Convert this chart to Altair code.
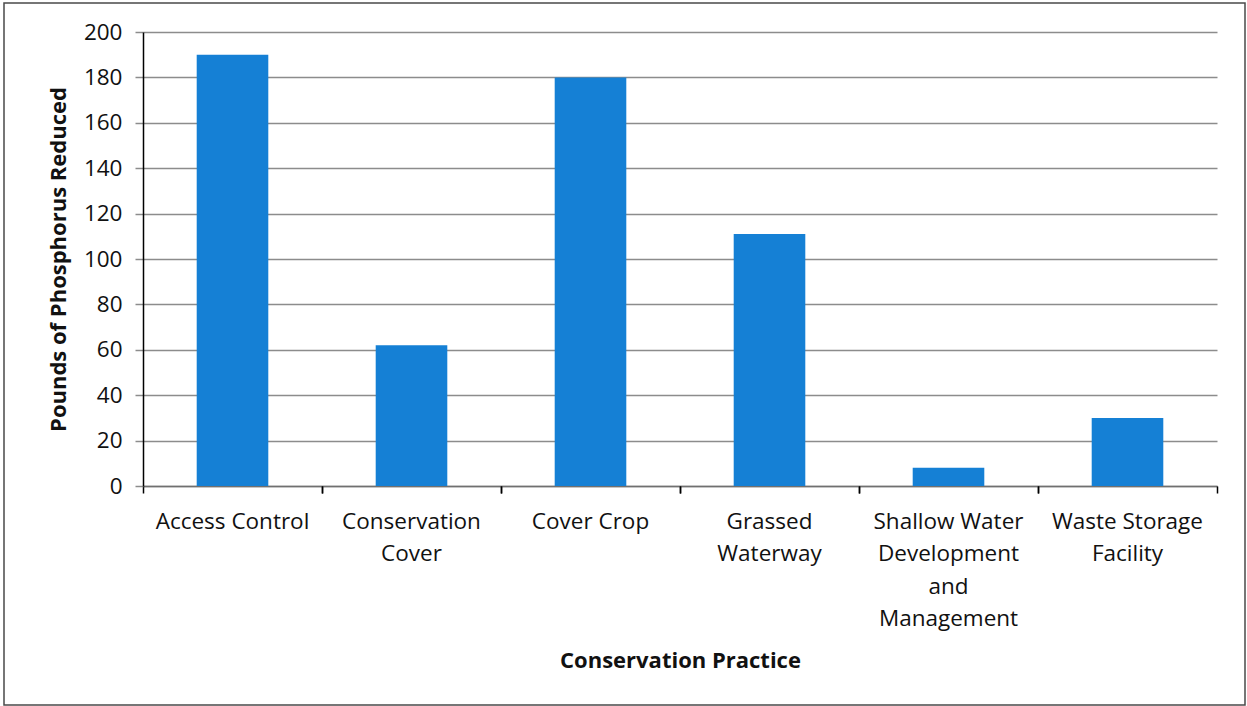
import altair as alt
import pandas as pd

# Phosphorus reduction by conservation practice
practices = [
    "Access Control",
    "Conservation Cover",
    "Cover Crop",
    "Grassed Waterway",
    "Shallow Water Development and Management",
    "Waste Storage Facility",
]
pounds_reduced = [190, 62, 180, 111, 8, 30]

# How each category label is wrapped onto lines under the axis
label_lines = {
    "Access Control": ["Access Control"],
    "Conservation Cover": ["Conservation", "Cover"],
    "Cover Crop": ["Cover Crop"],
    "Grassed Waterway": ["Grassed", "Waterway"],
    "Shallow Water Development and Management": ["Shallow Water", "Development", "and", "Management"],
    "Waste Storage Facility": ["Waste Storage", "Facility"],
}

df = pd.DataFrame({"practice": practices, "pounds": pounds_reduced})

FONT = "Open Sans"
BAR_COLOR = "#1580d5"
GRID_COLOR = "#8c8c8c"
W, H = 1074, 454


def js_list(items):
    return "[" + ",".join("'" + s + "'" for s in items) + "]"


label_expr = ""
for name, lines in label_lines.items():
    label_expr += f"datum.label == '{name}' ? {js_list(lines)} : "
label_expr += "datum.label"

x_scale = alt.Scale(domain=practices, paddingInner=0, paddingOuter=0)
y_scale = alt.Scale(domain=[0, 200])

bars = alt.Chart(df).mark_bar(color=BAR_COLOR, width=alt.RelativeBandSize(0.4)).encode(
    x=alt.X(
        "practice:N",
        sort=practices,
        scale=x_scale,
        axis=alt.Axis(
            orient="bottom",
            title="Conservation Practice",
            titleFont=FONT,
            titleFontSize=22,
            titleFontWeight="bold",
            titleColor="#111111",
            titleX=W / 2,
            titleY=174,
            titleBaseline="middle",
            titleAlign="center",
            labelAngle=0,
            labelExpr=label_expr,
            labelFont=FONT,
            labelFontSize=22.5,
            labelColor="#111111",
            labelLineHeight=32.5,
            labelPadding=24,
            labelBaseline="top",
            labelLimit=400,
            ticks=False,
            domain=True,
            domainColor="#707070",
            domainWidth=1.5,
            grid=False,
        ),
    ),
    y=alt.Y(
        "pounds:Q",
        scale=y_scale,
        axis=alt.Axis(
            values=list(range(0, 201, 20)),
            title="Pounds of Phosphorus Reduced",
            titleFont=FONT,
            titleFontSize=22,
            titleFontWeight="bold",
            titleColor="#111111",
            titleX=-85,
            titleY=H / 2,
            titleAngle=-90,
            titleBaseline="middle",
            titleAlign="center",
            labelFont=FONT,
            labelFontSize=22.5,
            labelColor="#111111",
            labelPadding=13,
            tickSize=8,
            tickColor=GRID_COLOR,
            tickWidth=1.5,
            grid=True,
            gridColor=GRID_COLOR,
            gridWidth=1.5,
            domain=True,
            domainColor="#000000",
            domainWidth=1.5,
        ),
    ),
)


def boundary_ticks(band_position):
    # Invisible copy of the bars whose x axis only draws ticks at category edges
    return alt.Chart(df).mark_bar(opacity=0, width=alt.RelativeBandSize(0.4)).encode(
        x=alt.X(
            "practice:N",
            sort=practices,
            scale=x_scale,
            axis=alt.Axis(
                orient="bottom",
                title=None,
                labels=False,
                ticks=True,
                tickSize=7,
                tickColor="#000000",
                tickWidth=1.5,
                bandPosition=band_position,
                domain=False,
                grid=False,
            ),
        ),
        y=alt.Y("pounds:Q", scale=y_scale),
    )


# Thin border round the whole figure
frame = alt.Chart(pd.DataFrame({"k": [0]})).mark_rect(
    filled=False, stroke="#4a4a4a", strokeWidth=1.5
).encode(
    x=alt.value(-139),
    x2=alt.value(1102),
    y=alt.value(-29),
    y2=alt.value(673),
)

chart = (
    alt.layer(bars, boundary_ticks(0), boundary_ticks(1), frame)
    .resolve_axis(x="independent")
    .properties(
        width=W,
        height=H,
        padding={"left": 143, "top": 32, "right": 30, "bottom": 220},
        autosize=alt.AutoSizeParams(type="none"),
        background="white",
    )
    .configure_view(stroke=None)
)

chart.save("out.html", embed_options={"renderer": "svg", "actions": False})
